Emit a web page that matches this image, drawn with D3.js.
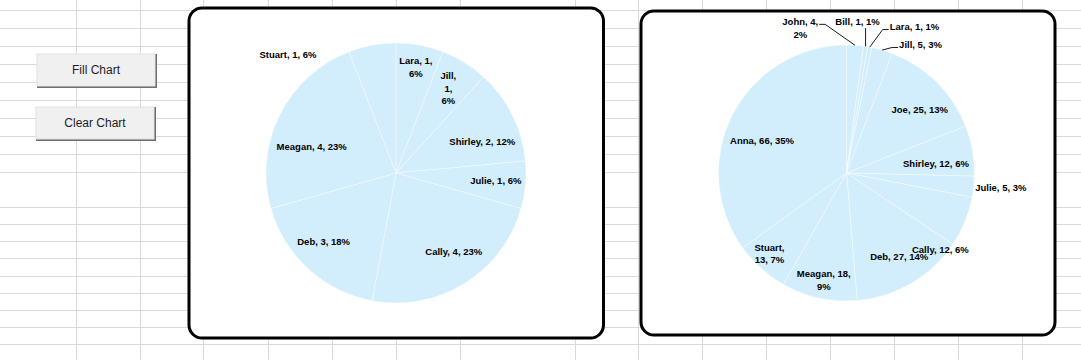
<!DOCTYPE html>
<html>
<head>
<meta charset="utf-8">
<script src="https://cdn.jsdelivr.net/npm/d3@7"></script>
<style>
  body { margin: 0; background: #fff; }
  svg { display: block; }
</style>
</head>
<body>
<div id="sheet"></div>
<script>

// sheet grid (column / row edges of the worksheet)
var colLines = [76, 140, 203, 268, 332, 396, 460, 575, 638, 702, 766, 830, 894, 958, 1022];
var rowLines = [10, 28, 46, 64, 82, 100, 118, 136, 154, 172, 207, 224, 241, 258, 276, 293, 310, 327, 344];

var buttonLabels = ["Fill Chart", "Clear Chart"];

// left chart
var leftNames  = ["Lara", "Jill", "Shirley", "Julie", "Cally", "Deb", "Meagan", "Stuart"];
var leftValues = [1, 1, 2, 1, 4, 3, 4, 1];
var leftPcts   = [6, 6, 12, 6, 23, 18, 23, 6];

// right chart
var rightNames  = ["John", "Bill", "Lara", "Jill", "Joe", "Shirley", "Julie", "Cally", "Deb", "Meagan", "Stuart", "Anna"];
var rightValues = [4, 1, 1, 5, 25, 12, 5, 12, 27, 18, 13, 66];
var rightPcts   = [2, 1, 1, 3, 13, 6, 3, 6, 14, 9, 7, 35];

// label placement (radius factor, angle nudge in degrees, line breaks, leader line)
var leftLabelLayout = [
    { k: 0.829, da: 0,     br: [2, 1] },
    { k: 0.765, da: 0,     br: [1, 1, 1] },
    { k: 0.706, da: 6.5 },
    { k: 0.770, da: -0.9 },
    { k: 0.751, da: -4.5 },
    { k: 0.768, da: 4.1 },
    { k: 0.679, da: -9.2 },
    { k: 1.235, da: -31.7 }
];
var rightLabelLayout = [
    { k: 1.189, da: -21.5, br: [2, 1], leader: true },
    { k: 1.185, da: -4.4,  leader: true },
    { k: 1.263, da: 14.4,  leader: true },
    { k: 1.160, da: 13.7,  leader: true },
    { k: 0.759, da: 4.2 },
    { k: 0.703, da: 3.8 },
    { k: 1.211, da: -0.9 },
    { k: 0.945, da: 16.7 },
    { k: 0.773, da: -1.7 },
    { k: 0.855, da: -0.4,  br: [2, 1] },
    { k: 0.873, da: 1.7,   br: [1, 2] },
    { k: 0.708, da: -5.9 }
];

var LABEL_FS = 9.5;
var LINE_H = 12.5;
var PIE_FILL = "#d2edfc";

var svg = d3.select("#sheet").append("svg")
    .attr("width", 1081)
    .attr("height", 360);

// gridlines
var grid = svg.append("g");
grid.selectAll(".vline")
    .data(colLines)
    .enter()
    .append("line")
    .attr("x1", function (d) { return d + 0.5; })
    .attr("x2", function (d) { return d + 0.5; })
    .attr("y1", 0)
    .attr("y2", 360)
    .style("stroke", "#dadada");
grid.selectAll(".hline")
    .data(rowLines)
    .enter()
    .append("line")
    .attr("x1", 0)
    .attr("x2", 1081)
    .attr("y1", function (d) { return d + 0.5; })
    .attr("y2", function (d) { return d + 0.5; })
    .style("stroke", "#dadada");

// buttons
var buttonPos = [{ x: 37, y: 54 }, { x: 36, y: 107 }];
var btnW = 120, btnH = 34;
var btns = svg.selectAll(".btn")
    .data(buttonLabels)
    .enter()
    .append("g")
    .attr("transform", function (d, i) { return "translate(" + buttonPos[i].x + "," + buttonPos[i].y + ")"; });
btns.append("rect")
    .attr("width", btnW)
    .attr("height", btnH)
    .style("fill", "#6e6e6e");
btns.append("rect")
    .attr("width", btnW - 2)
    .attr("height", btnH - 2)
    .style("fill", "#f0f0f0")
    .style("stroke", "#e2e2e2")
    .style("stroke-width", 1);
btns.append("text")
    .attr("x", (btnW - 2) / 2)
    .attr("y", (btnH - 2) / 2 + 4.2)
    .attr("text-anchor", "middle")
    .attr("font-family", "Liberation Sans, Arial, sans-serif")
    .attr("font-size", "12px")
    .attr("fill", "#1e1e1e")
    .text(function (d) { return d; });

// chart boxes
function chartBox(x, y, w, h) {
    svg.append("rect")
        .attr("x", x)
        .attr("y", y)
        .attr("width", w)
        .attr("height", h)
        .attr("rx", 13)
        .attr("ry", 13)
        .style("fill", "#fff")
        .style("stroke", "#000")
        .style("stroke-width", 3);
}

function drawPie(cx, cy, R, names, values, pcts, layout) {
    var g = svg.append("g")
        .attr("transform", "translate(" + cx + "," + cy + ")");

    var data = names.map(function (n, i) { return { name: n, value: values[i], pct: pcts[i] }; });

    var pie = d3.pie()
        .sort(null)
        .value(function (d) { return d.value; });
    var arc = d3.arc()
        .innerRadius(0)
        .outerRadius(R);

    var arcs = pie(data);

    g.selectAll("path")
        .data(arcs)
        .enter()
        .append("path")
        .attr("d", arc)
        .style("fill", PIE_FILL)
        .style("stroke", "#fff")
        .style("stroke-opacity", 0.4)
        .style("stroke-width", 1);

    arcs.forEach(function (d, i) {
        var lay = layout[i];
        var mid = (d.startAngle + d.endAngle) / 2;
        var a = mid + lay.da * Math.PI / 180;
        var r = lay.k * R;
        var lx = r * Math.sin(a);
        var ly = -r * Math.cos(a);

        var tokens = [d.data.name + ",", d.data.value + ",", d.data.pct + "%"];
        var br = lay.br || [3];
        var lines = [], t = 0;
        br.forEach(function (n) {
            lines.push(tokens.slice(t, t + n).join(" "));
            t += n;
        });

        var y0 = ly - (lines.length - 1) * LINE_H / 2;
        var txt = g.append("text")
            .attr("text-anchor", "middle")
            .attr("font-family", "Liberation Sans, Arial, sans-serif")
            .attr("font-size", LABEL_FS + "px")
            .attr("font-weight", "bold")
            .attr("fill", "#000");
        lines.forEach(function (s, j) {
            txt.append("tspan")
                .attr("x", lx)
                .attr("y", y0 + j * LINE_H + LABEL_FS * 0.35)
                .text(s);
        });

        if (lay.leader) {
            var px = R * Math.sin(mid), py = -R * Math.cos(mid);
            var bb = txt.node().getBBox();
            var pts;
            if (px >= bb.x && px <= bb.x + bb.width) {
                pts = [[px, bb.y + bb.height + 1], [px, py]];
            } else if (bb.x + bb.width < px) {
                var sx = bb.x + bb.width + 1, sy = y0 + 2.6;
                pts = [[sx, sy], [sx + 6, sy], [px, py]];
            } else {
                var sx2 = bb.x - 1, sy2 = y0 + 3.2;
                pts = [[sx2, sy2], [sx2 - 6, sy2], [px, py]];
            }
            g.append("path")
                .attr("d", d3.line()(pts))
                .style("fill", "none")
                .style("stroke", "#000")
                .style("stroke-width", 0.9);
        }
    });
}

chartBox(189, 8, 414.5, 330);
chartBox(641, 11, 414, 324);

drawPie(396, 173, 130, leftNames, leftValues, leftPcts, leftLabelLayout);
drawPie(846.5, 173, 128, rightNames, rightValues, rightPcts, rightLabelLayout);

</script>
</body>
</html>
